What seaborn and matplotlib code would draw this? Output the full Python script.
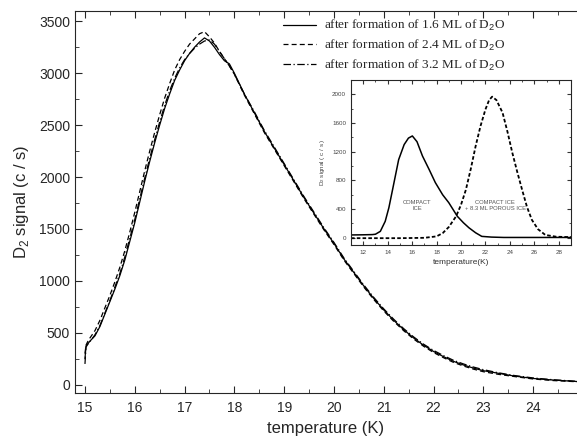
import numpy as np
import pandas as pd
import matplotlib
matplotlib.use("Agg")
from matplotlib import pyplot as plt
from matplotlib.ticker import MultipleLocator
import seaborn as sns

# main TPD curves (temperature in K, D2 signal in c/s)
temp = [15.0, 15.02, 15.05, 15.1, 15.2, 15.3, 15.4, 15.5, 15.6, 15.7, 15.8, 15.9,
        16.0, 16.1, 16.2, 16.3, 16.4, 16.5, 16.6, 16.7, 16.8, 16.9, 17.0, 17.1,
        17.2, 17.3, 17.4, 17.5, 17.6, 17.7, 17.8, 17.9, 18.0, 18.2, 18.4, 18.6,
        18.8, 19.0, 19.2, 19.4, 19.6, 19.8, 20.0, 20.2, 20.4, 20.6, 20.8, 21.0,
        21.2, 21.4, 21.6, 21.8, 22.0, 22.2, 22.4, 22.6, 22.8, 23.0, 23.3, 23.6,
        24.0, 24.4, 24.9]
sig_16 = [250, 370, 390, 420, 470, 560, 680, 800, 920, 1050, 1200, 1380,
          1560, 1760, 1960, 2150, 2330, 2500, 2660, 2800, 2930, 3030, 3120, 3190,
          3250, 3300, 3340, 3310, 3250, 3180, 3120, 3090, 3000, 2800, 2620, 2440,
          2280, 2120, 1960, 1800, 1650, 1500, 1360, 1210, 1080, 950, 830, 720,
          620, 530, 450, 380, 320, 270, 225, 190, 160, 135, 110, 85,
          60, 45, 30]
sig_24 = [300, 380, 410, 450, 520, 620, 740, 860, 990, 1130, 1290, 1470,
          1660, 1860, 2060, 2250, 2430, 2600, 2760, 2900, 3030, 3130, 3210, 3280,
          3330, 3380, 3400, 3350, 3290, 3210, 3140, 3070, 2990, 2790, 2610, 2430,
          2270, 2110, 1950, 1790, 1640, 1490, 1350, 1200, 1070, 940, 820, 710,
          610, 520, 440, 370, 310, 260, 215, 180, 150, 125, 100, 80,
          55, 40, 28]
sig_32 = [200, 360, 385, 415, 480, 570, 690, 810, 940, 1070, 1230, 1410,
          1590, 1790, 1990, 2180, 2360, 2530, 2690, 2830, 2950, 3050, 3130, 3190,
          3240, 3280, 3310, 3320, 3280, 3210, 3140, 3070, 2990, 2800, 2630, 2450,
          2290, 2130, 1970, 1810, 1660, 1510, 1370, 1220, 1090, 960, 840, 730,
          630, 540, 460, 390, 330, 280, 235, 200, 170, 145, 115, 90,
          65, 48, 32]

# inset curves
ins_temp = [11.0, 12.0, 12.75, 13.0, 13.4, 13.8, 14.1, 14.4, 14.9, 15.35, 15.7, 16.02,
            16.4, 16.85, 17.4, 17.9, 18.5, 19.0, 19.7, 20.2, 20.65, 21.2, 21.7, 22.5,
            23.5, 25.0, 27.0, 29.0]
ins_compact = [40, 42, 45, 50, 90, 230, 420, 670, 1090, 1300, 1390, 1420,
               1340, 1140, 950, 770, 600, 490, 300, 210, 140, 70, 20, 10,
               5, 5, 5, 5]
ins_temp2 = [11.0, 13.0, 15.0, 17.0, 18.0, 18.5, 19.0, 19.6, 20.0, 20.4, 20.8, 21.2,
             21.6, 22.0, 22.3, 22.55, 22.9, 23.4, 23.8, 24.2, 24.6, 25.0, 25.4, 25.8,
             26.3, 26.9, 27.8, 29.0]
ins_porous = [-5, -5, -5, 0, 20, 65, 150, 300, 460, 670, 960, 1280,
              1560, 1790, 1920, 1968, 1920, 1745, 1480, 1185, 920, 670, 430, 250,
              120, 40, 15, 10]

labels = ["after formation of 1.6 ML of D$_2$O",
          "after formation of 2.4 ML of D$_2$O",
          "after formation of 3.2 ML of D$_2$O"]

sns.set_style("ticks")
plt.rcParams["font.family"] = ["Liberation Sans", "DejaVu Sans"]
plt.rcParams["mathtext.fontset"] = "custom"
plt.rcParams["mathtext.rm"] = "Liberation Sans"

df = pd.DataFrame({"temp": temp, "s16": sig_16, "s24": sig_24, "s32": sig_32})

fig = plt.figure(figsize=(5.77, 4.36), dpi=100)
ax = fig.add_axes([0.130, 0.0986, 0.870, 0.8764])

sns.lineplot(data=df, x="temp", y="s16", ax=ax, color="black", lw=0.9,
             linestyle="-", label=labels[0])
sns.lineplot(data=df, x="temp", y="s24", ax=ax, color="black", lw=0.9,
             linestyle=(0, (4, 2.5)), label=labels[1])
sns.lineplot(data=df, x="temp", y="s32", ax=ax, color="black", lw=0.9,
             linestyle=(0, (6, 2, 1, 2)), label=labels[2])

ax.set_xlim(14.8, 24.88)
ax.set_ylim(-80, 3600)
ax.xaxis.set_major_locator(MultipleLocator(1))
ax.xaxis.set_minor_locator(MultipleLocator(0.5))
ax.yaxis.set_major_locator(MultipleLocator(500))
ax.yaxis.set_minor_locator(MultipleLocator(250))
ax.tick_params(which="both", direction="in", top=True, right=False, labelsize=10)
ax.tick_params(axis="x", pad=6)
ax.tick_params(which="major", length=5)
ax.tick_params(which="minor", length=3)
ax.spines["right"].set_visible(False)
ax.set_xlabel("temperature (K)", fontsize=12, labelpad=4)
ax.set_ylabel("D$_2$ signal (c / s)", fontsize=12, labelpad=6)

leg = ax.legend(loc="upper left", bbox_to_anchor=(0.39, 1.012), frameon=False,
                handlelength=2.5, handletextpad=0.6, labelspacing=0.35,
                prop={"family": "Liberation Serif", "size": 9.5})

# inset
axi = fig.add_axes([0.6083, 0.4381, 0.3813, 0.3784])
sns.lineplot(x=ins_temp, y=ins_compact, ax=axi, color="black", lw=1.1)
sns.lineplot(x=ins_temp2, y=ins_porous, ax=axi, color="black", lw=1.3,
             linestyle=(0, (2, 1.2)))
axi.set_xlim(11, 29)
axi.set_ylim(-100, 2200)
axi.xaxis.set_major_locator(MultipleLocator(2))
axi.xaxis.set_minor_locator(MultipleLocator(1))
axi.yaxis.set_major_locator(MultipleLocator(400))
axi.yaxis.set_minor_locator(MultipleLocator(200))
axi.tick_params(which="both", direction="in", top=True, right=True,
                labelsize=4.5, colors="#333333", labelcolor="#444444")
axi.tick_params(which="major", length=3)
axi.tick_params(which="minor", length=1.5)
axi.set_xlabel("temperature(K)", fontsize=6, color="#333333", labelpad=3)
axi.set_ylabel("D$_2$ signal ( c / s )", fontsize=4.5, color="#444444", labelpad=4)
axi.text(16.4, 450, "COMPACT\nICE", fontsize=4.2, color="#555555",
         ha="center", va="center")
axi.text(22.8, 450, "COMPACT ICE\n+ 8.3 ML POROUS ICE", fontsize=4.2,
         color="#555555", ha="center", va="center")

fig.savefig("out.png", dpi=100)
